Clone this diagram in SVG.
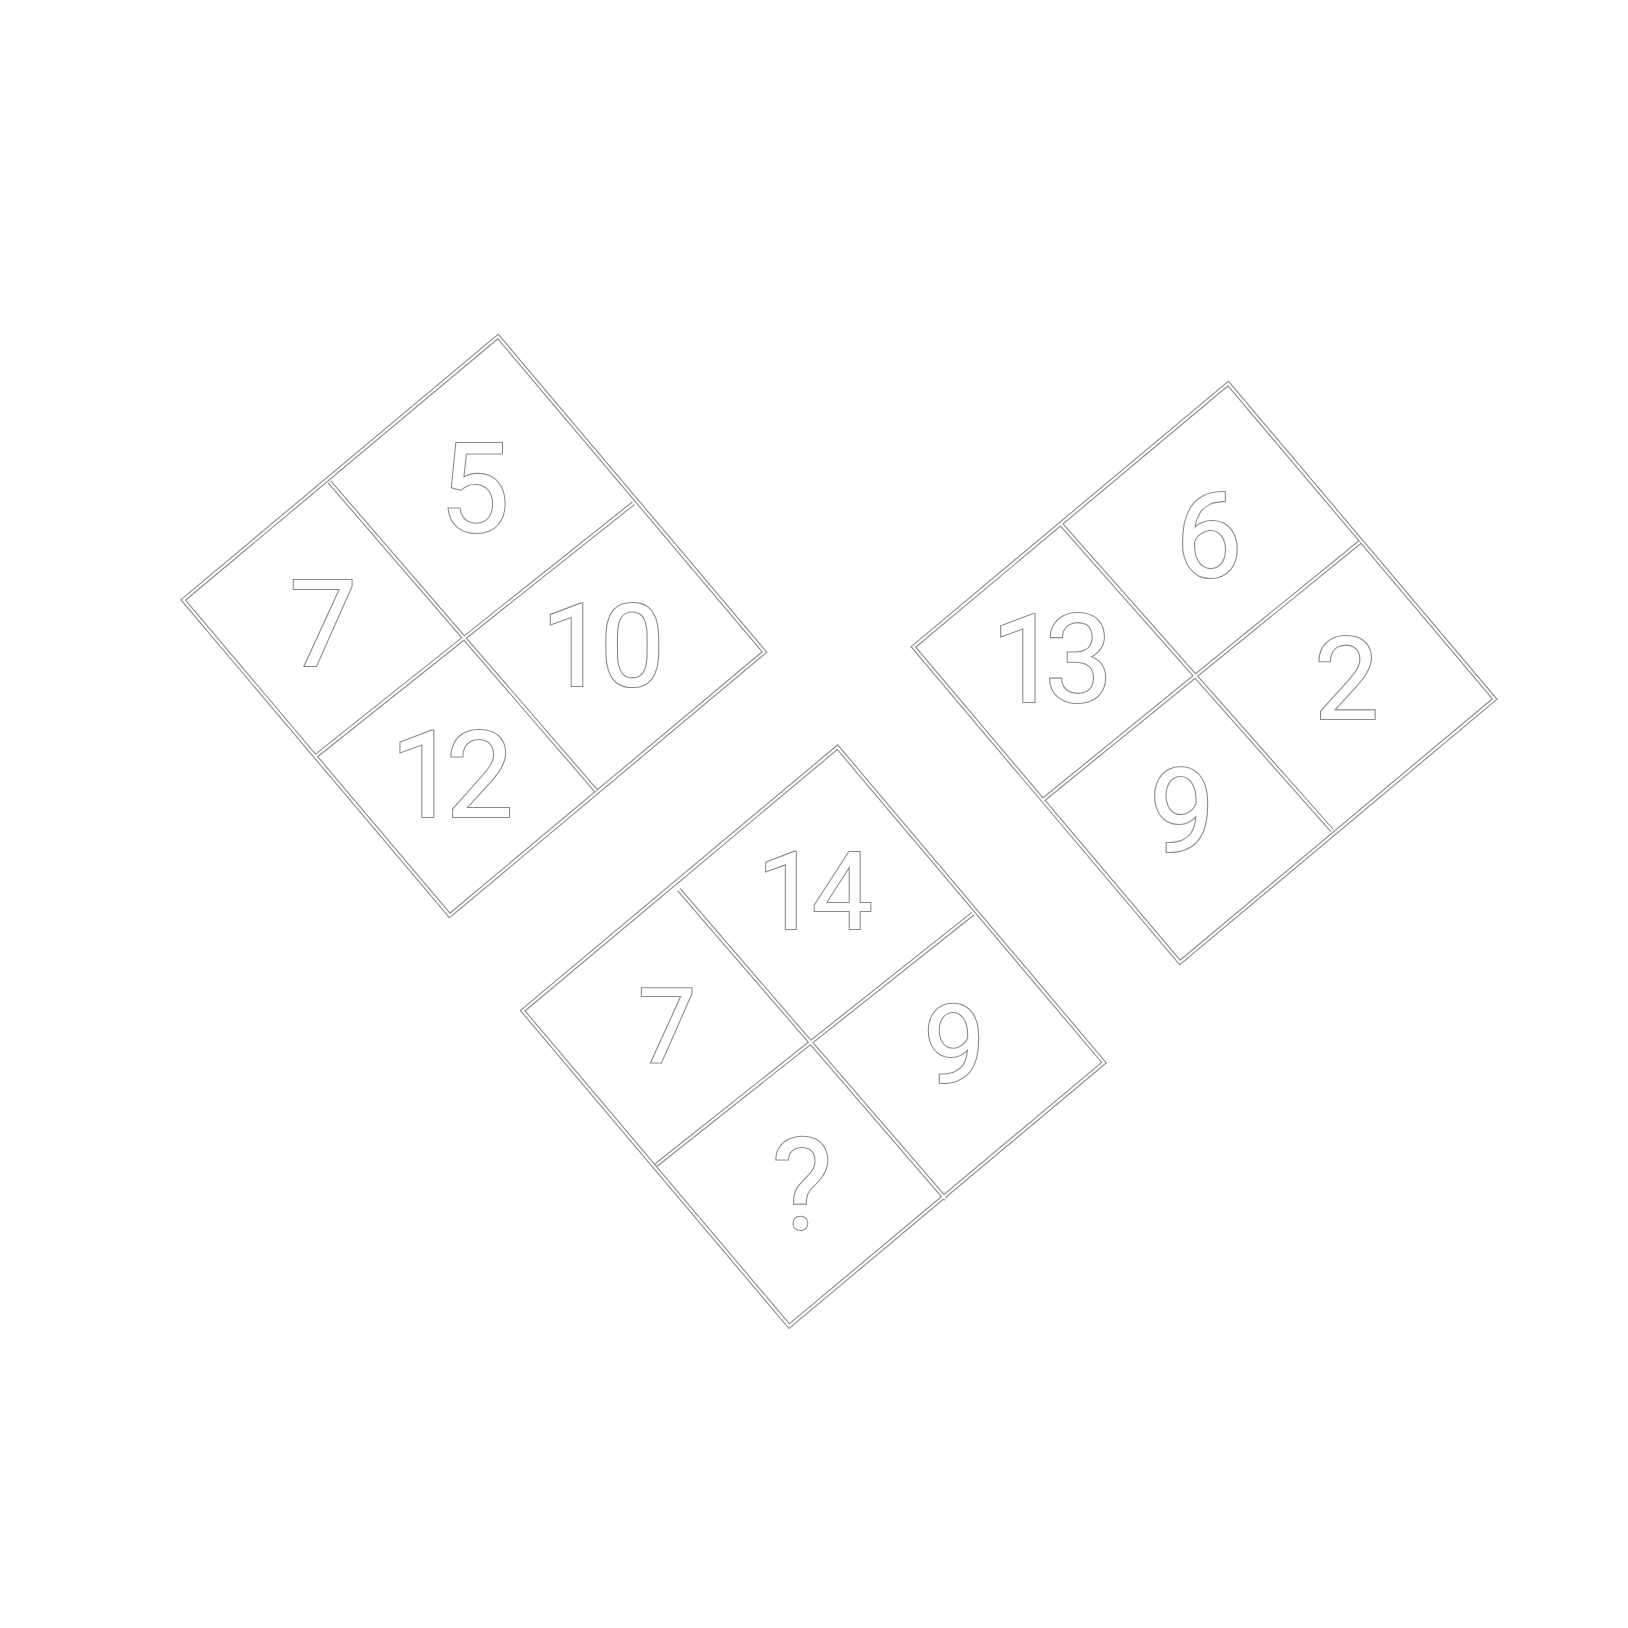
<svg xmlns="http://www.w3.org/2000/svg" width="1628" height="1628" viewBox="0 0 1628 1628">
<style>
.ln{fill:none;stroke:#8c8c8c;stroke-width:4.4;stroke-linejoin:miter}
.lw{fill:none;stroke:#ffffff;stroke-width:2.2;stroke-linejoin:miter}
.t{font-family:Roboto,"Liberation Sans",sans-serif;fill:#ffffff;stroke:#8a8a8a;stroke-width:2.2;paint-order:stroke;text-anchor:middle}
</style>
<rect width="1628" height="1628" fill="#ffffff"/>
<g id="square1">
<g transform="translate(498,336.5)">
<path class="ln" d="M0,0 L266.5,315.5 L-48.3,579 L-314.8,263.5 Z M-168.7,145.2 L98,454.2 M135.3,166.8 L-183,420.2"/>
<path class="lw" d="M0,0 L266.5,315.5 L-48.3,579 L-314.8,263.5 Z M-168.7,145.2 L98,454.2 M135.3,166.8 L-183,420.2"/>
</g>
<text class="t" x="474.5" y="532" font-size="125">5</text>
<text class="t" x="323" y="666" font-size="120">7</text>
<text class="t" x="600" y="686" font-size="115" letter-spacing="-6">10</text>
<text class="t" x="446" y="817" font-size="120" letter-spacing="-12">12</text>
</g>
<g id="square2">
<g transform="translate(1228.2,383.5)">
<path class="ln" d="M0,0 L266.5,315.5 L-48.3,579 L-314.8,263.5 Z M-167.1,140.8 L103.9,447.1 M131.9,158.5 L-184.7,416"/>
<path class="lw" d="M0,0 L266.5,315.5 L-48.3,579 L-314.8,263.5 Z M-167.1,140.8 L103.9,447.1 M131.9,158.5 L-184.7,416"/>
</g>
<text class="t" x="1209" y="577" font-size="119">6</text>
<text class="t" x="1044.5" y="702" font-size="122" letter-spacing="-15">13</text>
<text class="t" x="1346.5" y="719" font-size="115">2</text>
<text class="t" x="1182" y="852" font-size="116">9</text>
</g>
<g id="square3">
<g transform="translate(837.5,747.2)">
<path class="ln" d="M0,0 L266.5,315.5 L-48.3,579 L-314.8,263.5 Z M-158.5,142.6 L108.4,452 M135.4,166.5 L-181.3,417.8"/>
<path class="lw" d="M0,0 L266.5,315.5 L-48.3,579 L-314.8,263.5 Z M-158.5,142.6 L108.4,452 M135.4,166.5 L-181.3,417.8"/>
</g>
<text class="t" x="812" y="928.5" font-size="108" letter-spacing="-6">14</text>
<text class="t" x="667" y="1061.5" font-size="103">7</text>
<text class="t" x="954.5" y="1083" font-size="110">9</text>
<text class="t" x="802" y="1229" font-size="128">?</text>
</g>
</svg>
